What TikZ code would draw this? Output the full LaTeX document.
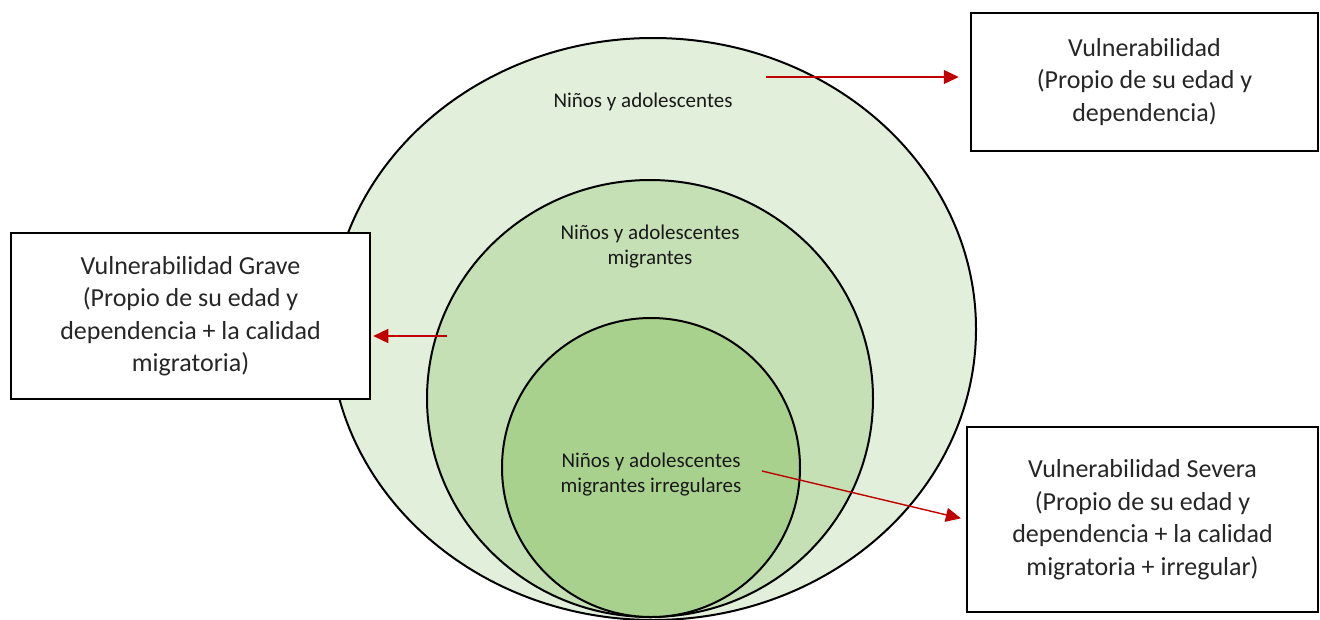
\documentclass[tikz,border=0pt]{standalone}
\usepackage{fontspec}
\setmainfont{Carlito}
\usetikzlibrary{shapes.geometric,arrows.meta}

\definecolor{verdeA}{HTML}{E2EFDA}
\definecolor{verdeB}{HTML}{C5E0B4}
\definecolor{verdeC}{HTML}{A9D18E}
\definecolor{rojo}{HTML}{C00000}

\begin{document}
\begin{tikzpicture}[x=1pt, y=-1pt,
    zona/.style={ellipse, draw=black, line width=2pt, inner sep=0pt},
    caja/.style={draw=black, line width=2.5pt, fill=white, align=center, inner sep=0pt, text=black!85, font=\fontsize{26}{32.5}\selectfont},
    etiqueta/.style={align=center, text=black!90, font=\fontsize{21}{25}\selectfont},
    flecha/.style={draw=rojo, line width=1.4pt, -{Triangle[length=15pt,width=14pt]}}]
    \useasboundingbox (0,0) rectangle (1320,619);
    \node[zona, fill=verdeA, minimum width=646pt, minimum height=582pt] (ninos) at (653,329) {};
    \node[zona, fill=verdeB, minimum width=446pt, minimum height=437pt] (migrantes) at (650,398.5) {};
    \node[zona, fill=verdeC, minimum width=298pt, minimum height=299pt] (irregulares) at (651,467.5) {};

    \node[etiqueta] (t1) at (643,102) {Niños y adolescentes};
    \node[etiqueta] (t2) at (650,247) {Niños y adolescentes\\migrantes};
    \node[etiqueta] (t3) at (651,475) {Niños y adolescentes\\migrantes irregulares};

    \node[caja, minimum width=347pt, minimum height=138pt] (vul) at (1144.5,82) {Vulnerabilidad\\(Propio de su edad y\\dependencia)};
    \node[caja, minimum width=359pt, minimum height=166pt] (grave) at (190.5,316) {Vulnerabilidad Grave\\(Propio de su edad y\\dependencia + la calidad\\migratoria)};
    \node[caja, minimum width=351pt, minimum height=185pt] (severa) at (1142.5,519.5) {Vulnerabilidad Severa\\(Propio de su edad y\\dependencia + la calidad\\migratoria + irregular)};

    \coordinate (p1) at (766,77);
    \coordinate (p2) at (447,336);
    \coordinate (p3) at (762,471);
    \draw[flecha, shorten >=11pt] (p1) -- (vul.west |- p1);
    \draw[flecha, shorten >=2pt] (p2) -- (grave.east |- p2);
    \draw[flecha, shorten >=5pt] (p3) -- (severa.west);
\end{tikzpicture}
\end{document}
